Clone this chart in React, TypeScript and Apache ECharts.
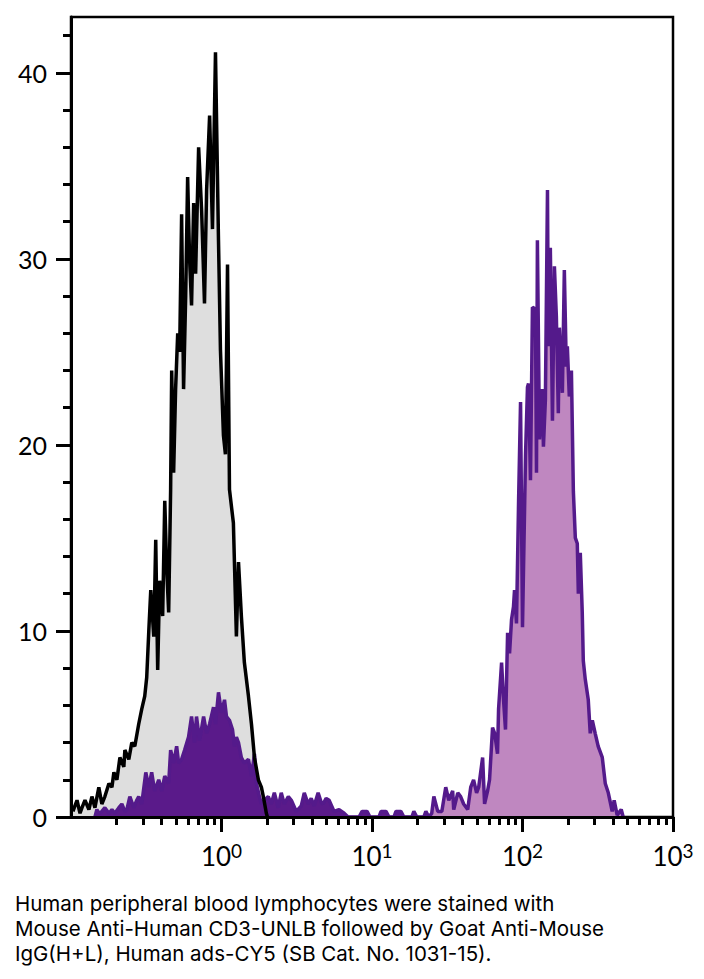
import React, { useEffect, useRef } from 'react';
import * as echarts from 'echarts';

// x values are log10(fluorescence intensity); y values are event counts
const grayX = [-0.987,-0.974,-0.960,-0.940,-0.927,-0.907,-0.881,-0.861,-0.841,-0.815,-0.795,-0.775,-0.748,-0.728,-0.715,-0.695,-0.675,-0.649,-0.642,-0.616,-0.596,-0.576,-0.550,-0.530,-0.510,-0.497,-0.483,-0.470,-0.450,-0.437,-0.424,-0.411,-0.391,-0.377,-0.364,-0.351,-0.338,-0.331,-0.318,-0.305,-0.291,-0.278,-0.265,-0.252,-0.238,-0.225,-0.212,-0.199,-0.185,-0.172,-0.152,-0.132,-0.113,-0.099,-0.079,-0.060,-0.040,-0.020,-0.007,0.013,0.026,0.040,0.053,0.079,0.099,0.113,0.132,0.152,0.179,0.199,0.219,0.245,0.265,0.278,0.298,0.305];
const grayY = [0.3,0.6,0.9,0.2,0.5,0.9,0.4,1.1,0.5,1.6,0.7,1.1,1.8,1.6,2.4,2.0,3.2,2.7,3.6,3.1,4.0,3.8,5.0,5.8,6.5,7.5,10.0,12.2,9.7,14.9,7.9,12.7,10.8,17.0,13.3,11.0,17.6,24.0,18.5,23.0,26.0,25.0,32.4,23.0,28.0,34.4,30.0,27.5,33.0,29.2,36.0,32.6,27.6,33.7,37.7,31.6,41.1,31.0,25.1,20.5,19.5,29.7,17.6,15.8,9.7,13.7,10.8,8.3,6.5,5.0,3.2,2.0,1.6,1.1,0.2,0];

const purpleX = [-0.841,-0.828,-0.815,-0.795,-0.775,-0.748,-0.728,-0.709,-0.682,-0.662,-0.642,-0.629,-0.609,-0.583,-0.563,-0.550,-0.530,-0.503,-0.483,-0.464,-0.444,-0.417,-0.397,-0.377,-0.351,-0.338,-0.318,-0.298,-0.285,-0.265,-0.245,-0.219,-0.199,-0.179,-0.166,-0.146,-0.119,-0.099,-0.079,-0.053,-0.040,-0.020,0,0.020,0.033,0.053,0.073,0.086,0.099,0.113,0.132,0.152,0.179,0.199,0.219,0.232,0.252,0.265,0.285,0.311,0.331,0.351,0.377,0.397,0.417,0.444,0.464,0.497,0.530,0.550,0.576,0.596,0.616,0.642,0.662,0.675,0.695,0.715,0.748,0.781,0.815,0.841,0.914,0.934,0.967,0.987,1.046,1.060,1.093,1.113,1.146,1.159,1.192,1.212,1.265,1.278,1.298,1.344,1.358,1.377,1.397,1.411,1.437,1.464,1.490,1.510,1.536,1.543,1.570,1.589,1.609,1.636,1.656,1.675,1.695,1.709,1.735,1.748,1.768,1.781,1.801,1.815,1.834,1.841,1.861,1.874,1.887,1.901,1.914,1.927,1.940,1.947,1.960,1.974,1.987,2.000,2.020,2.033,2.040,2.053,2.066,2.086,2.093,2.099,2.113,2.132,2.139,2.152,2.166,2.172,2.185,2.199,2.212,2.225,2.238,2.245,2.265,2.278,2.291,2.298,2.311,2.325,2.338,2.351,2.364,2.371,2.384,2.397,2.404,2.417,2.437,2.450,2.464,2.483,2.503,2.530,2.550,2.570,2.596,2.609,2.629,2.656,2.669];
const purpleY = [0,0.4,0.2,0.3,0.5,0.2,0.4,0.2,0.5,0.7,0.3,0.4,1.1,0.5,0.9,1.1,0.7,2.4,1.6,2.4,1.4,2.0,1.4,2.2,1.8,3.6,2.9,3.8,2.9,3.1,3.6,4.3,5.4,4.0,5.4,4.1,5.4,4.5,5.0,5.9,5.0,6.7,5.6,6.3,5.4,5.2,4.7,3.8,4.3,4.0,3.2,2.9,3.1,2.2,3.4,1.8,1.1,0.7,0.9,1.1,0.7,1.3,0.5,1.3,0.7,1.1,0.9,0.3,0.6,1.3,0.7,1.0,0.6,1.3,0.8,0.7,1.0,0.9,0.3,0.4,0.2,0,0,0.3,0.3,0,0,0.3,0.3,0,0,0.3,0.3,0,0,0.3,0,0,0.3,0,0.2,1.1,0.3,0.3,1.6,0.9,1.4,0.4,1.3,1.1,0.7,0.4,1.6,2.0,1.3,1.6,3.2,0.7,1.4,2.0,4.8,4.5,3.4,5.8,8.3,6.3,4.7,9.9,8.8,10.6,11.3,12.2,10.4,17.0,22.3,10.2,19.4,23.1,23.3,18.1,27.4,27.3,18.5,31.0,20.3,23.0,19.9,22.4,33.7,25.3,30.6,21.3,29.6,26.9,21.7,26.3,22.8,29.4,24.2,25.3,22.6,24.0,17.5,15.0,14.7,12.0,14.2,11.0,8.4,7.4,6.3,4.5,5.2,4.5,3.8,3.2,1.8,1.3,0.3,0.9,0.1,0.4,0];

const majorX = [0, 1, 2, 3];
const decadeExps = [-1, 0, 1, 2];
const minorMultipliers = [2, 3, 4, 5, 6, 7, 8, 9];
const majorY = [0, 10, 20, 30, 40];
const minorY = [2, 4, 6, 8, 12, 14, 16, 18, 22, 24, 26, 28, 32, 34, 36, 38, 42];
const captionLines = [
  'Human peripheral blood lymphocytes were stained with',
  'Mouse Anti-Human CD3-UNLB followed by Goat Anti-Mouse',
  'IgG(H+L), Human ads-CY5 (SB Cat. No. 1031-15).',
];

const FONT = 'Lato, "Open Sans", sans-serif';
const CAPTION_FONT = 'Inter, "Open Sans", sans-serif';

const zip = (xs: number[], ys: number[]) => xs.map((x, i) => [x, ys[i]]);

export default function App() {
  const ref = useRef<HTMLDivElement>(null);
  useEffect(() => {
    const chart = echarts.init(ref.current!, null, { renderer: 'svg' });
    const minorX: number[] = [];
    decadeExps.forEach((d) => minorMultipliers.forEach((m) => minorX.push(Math.log10(m * Math.pow(10, d)))));
    const grayData = zip(grayX, grayY);
    const purpleData = zip(purpleX, purpleY);
    const tickStyle = { color: '#000', width: 3 };
    chart.setOption({
      animation: false,
      backgroundColor: '#fff',
      title: {
        text: captionLines.join('\n'),
        left: 15,
        top: 891,
        padding: 0,
        textStyle: { fontSize: 20.5, lineHeight: 25, fontWeight: 'normal', color: '#000', fontFamily: CAPTION_FONT },
      },
      grid: { left: 71, right: 31, top: 17, bottom: 162, show: true, borderColor: '#000', borderWidth: 2.5 },
      xAxis: [
        {
          type: 'value', min: -1, max: 3, position: 'bottom', z: 5,
          axisLine: { onZero: false, lineStyle: { color: '#000', width: 3 } },
          axisTick: { customValues: majorX, length: 15, lineStyle: tickStyle },
          axisLabel: {
            customValues: majorX, margin: 24,
            formatter: (v: number) => `{b|10}{s|${v}}`,
            rich: {
              b: { fontSize: 26, lineHeight: 30, color: '#000', fontFamily: FONT },
              s: { fontSize: 19, lineHeight: 19, verticalAlign: 'top', color: '#000', fontFamily: FONT },
            },
          },
          splitLine: { show: false },
        },
        {
          type: 'value', min: -1, max: 3, position: 'bottom', z: 5,
          axisLine: { show: false, onZero: false },
          axisTick: { customValues: minorX, length: 8, lineStyle: tickStyle },
          axisLabel: { show: false },
          splitLine: { show: false },
        },
      ],
      yAxis: [
        {
          type: 'value', min: 0, max: 43, position: 'left', z: 5,
          axisLine: { show: true, onZero: false, lineStyle: { color: '#000', width: 3 } },
          axisTick: { show: true, customValues: majorY, length: 15, lineStyle: tickStyle },
          axisLabel: { customValues: majorY, margin: 24, fontSize: 25, color: '#000', fontFamily: FONT },
          splitLine: { show: false },
        },
        {
          type: 'value', min: 0, max: 43, position: 'left', z: 5,
          axisLine: { show: false, onZero: false },
          axisTick: { show: true, customValues: minorY, length: 8, lineStyle: tickStyle },
          axisLabel: { show: false },
          splitLine: { show: false },
        },
      ],
      series: [
        {
          name: 'Unstained fill', type: 'line', data: grayData, z: 2,
          showSymbol: false, symbol: 'none',
          lineStyle: { width: 0, opacity: 0 },
          areaStyle: { color: '#dedede', opacity: 1 },
        },
        {
          name: 'Stained', type: 'line', data: purpleData, z: 3,
          showSymbol: false, symbol: 'none',
          lineStyle: { color: '#541a8b', width: 3.5 },
          areaStyle: {
            opacity: 1,
            color: {
              type: 'linear', x: 0, y: 0, x2: 704, y2: 0, global: true,
              colorStops: [
                { offset: 0, color: '#5a1a8a' },
                { offset: 0.6, color: '#5a1a8a' },
                { offset: 0.6, color: '#bf87c0' },
                { offset: 1, color: '#bf87c0' },
              ],
            },
          },
        },
        {
          name: 'Unstained', type: 'line', data: grayData, z: 4,
          showSymbol: false, symbol: 'none',
          lineStyle: { color: '#000', width: 3.5 },
        },
      ],
    });
    return () => chart.dispose();
  }, []);
  return <div ref={ref} style={{ position: 'absolute', left: 0, top: 0, width: 704, height: 979 }} />;
}
